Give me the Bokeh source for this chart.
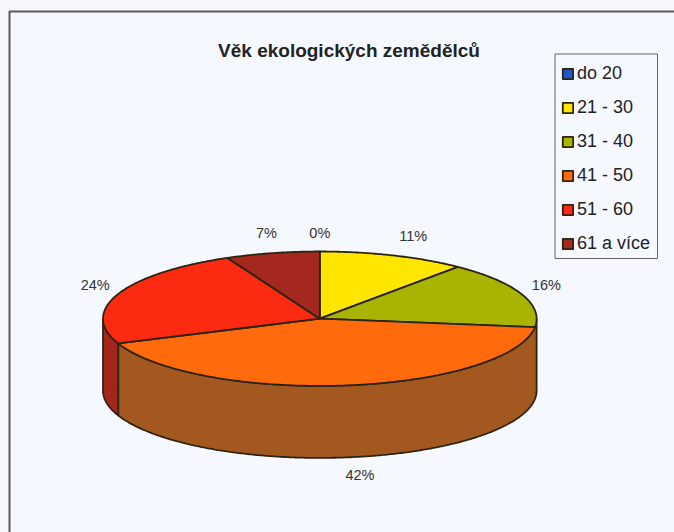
import numpy as np
from bokeh.plotting import figure
from bokeh.models import ColumnDataSource, Legend, LegendItem
from bokeh.core.properties import value
from bokeh.embed import file_html
from bokeh.resources import INLINE

TITLE = "Věk ekologických zemědělců"
categories = ["do 20", "21 - 30", "31 - 40", "41 - 50", "51 - 60", "61 a více"]
shares = [0, 11, 16, 42, 24, 7]
colors = ["#2457c5", "#ffe600", "#a9b400", "#ff6a0c", "#fb2a10", "#a5281e"]
wall_colors = ["#1a3c88", "#a89800", "#6f7600", "#a2581f", "#a3261c", "#6e1a14"]
label_dx = [0, 20, 25, 13, -23, -6]
label_dy = [-19, -19, -9, 18, -9, -20]

BG = "#f5f8ff"
INK = "#2c2412"
FONT = "Arial"
CX, CY, RX, RY, DEPTH = 319.3, 318.2, 216.8, 67.2, 72.0

p = figure(width=674, height=532, x_range=(0, 674), y_range=(532, 0),
           output_backend="svg", toolbar_location=None, min_border=0,
           background_fill_color=BG, border_fill_color=BG, outline_line_color=None)
p.axis.visible = False
p.grid.visible = False


def arc(a0, a1, dy=0.0):
    n = max(2, int(abs(a1 - a0) * 2) + 2)
    t = np.radians(np.linspace(a0, a1, n))
    return CX + RX * np.sin(t), CY - RY * np.cos(t) + dy


edges = np.cumsum([0] + shares) / sum(shares) * 360.0

# walls (only the front half of the rim); a sliver under 10 degrees joins its neighbour
for i in range(len(shares)):
    a0, a1 = max(edges[i], 90.0), min(edges[i + 1], 270.0)
    if a1 - a0 < 10:
        continue
    if a0 < 100:
        a0 = 90.0
    xt, yt = arc(a0, a1)
    xb, yb = arc(a1, a0, DEPTH)
    p.patch(np.r_[xt, xb], np.r_[yt, yb], fill_color=wall_colors[i],
            line_color=INK, line_width=1.8)

# top face
items = []
for i, cat in enumerate(categories):
    xs, ys = arc(edges[i], edges[i + 1])
    r = p.patch(np.r_[CX, xs], np.r_[CY, ys], fill_color=colors[i],
                line_color=INK, line_width=1.8)
    items.append(LegendItem(label=cat, renderers=[r]))

# percentage labels beside their slices
mids = np.radians((edges[:-1] + edges[1:]) / 2)
lab_x = CX + RX * np.sin(mids)
lab_y = CY - RY * np.cos(mids) + np.where(np.cos(mids) < 0, DEPTH, 0)
src = ColumnDataSource(dict(x=lab_x, y=lab_y, dx=label_dx, dy=label_dy,
                            t=[f"{v}%" for v in shares]))
p.text("x", "y", text="t", source=src, x_offset="dx", y_offset="dy",
       text_font=value(FONT), text_font_size="14.5px",
       text_color="#333333", text_align="center", text_baseline="middle")

p.text([348.5], [50], text=[TITLE], text_font=value(FONT),
       text_font_style="bold", text_font_size="19px", text_color="#222222",
       text_align="center", text_baseline="middle")

# chart frame: its left and top edges run off the page
p.line([9, 9, 674], [532, 11, 11], line_color="#5a5a5a", line_width=2)

# legend box, drawn apart because the rows sit low in it
p.quad(left=[554.5], right=[657], top=[53.5], bottom=[258], fill_color=BG,
       line_color="#666666", line_width=1)

legend = Legend(items=items, location=(561, 278), orientation="vertical",
                label_text_font=FONT, label_text_font_size="18px",
                label_text_color="#222222", label_standoff=3,
                glyph_width=13, glyph_height=13, spacing=13, padding=0, margin=0,
                border_line_color=None, background_fill_alpha=0)
p.add_layout(legend)

html = file_html(p, INLINE).replace("<body>", f'<body style="background:{BG};overflow:hidden">', 1)
open("out.html", "w").write(html)
